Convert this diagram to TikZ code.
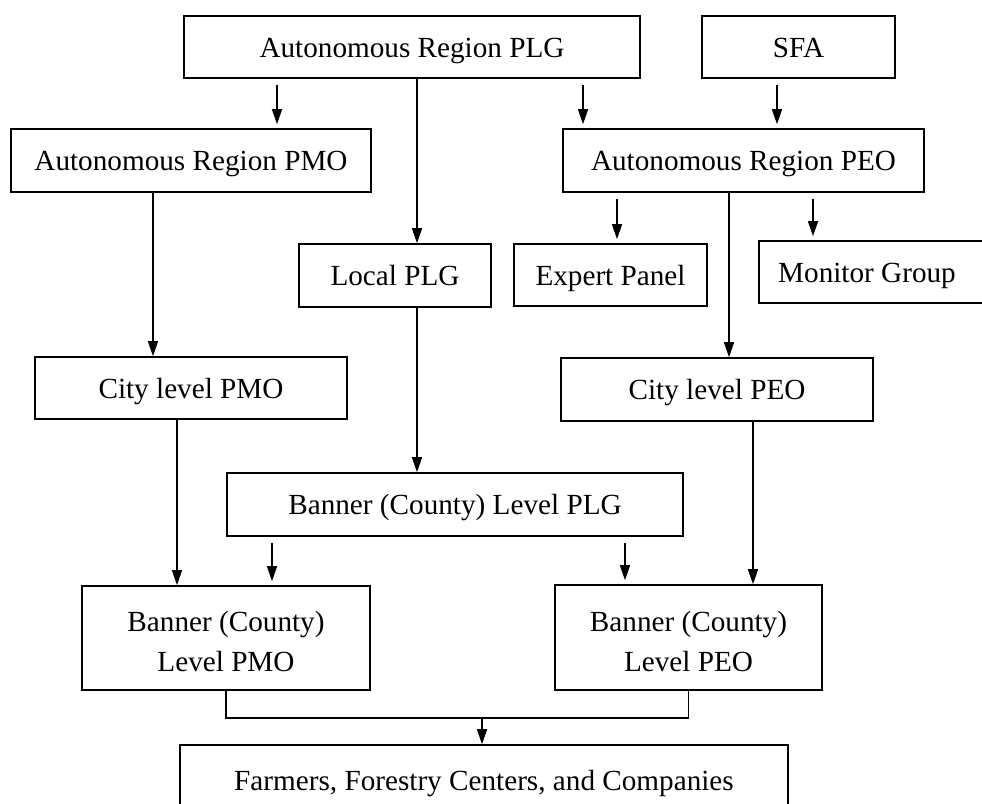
\documentclass[tikz,border=0pt]{standalone}
\usepackage{fontspec}
\setmainfont{Liberation Serif}
\usetikzlibrary{arrows.meta}
\begin{document}
\begin{tikzpicture}[x=1pt,y=-1pt,
  txt/.style={inner sep=0pt,align=center,font=\fontsize{29.2}{40}\selectfont},
  box/.style={txt,draw,line width=1.6pt},
  one/.style={box,text height=26pt,text depth=6pt},
  link/.style={line width=1.4pt},
  arr/.style={link,-{Triangle[length=15pt,width=10pt]}},
  gap/.style={shorten <=6pt,shorten >=4pt},
]
\useasboundingbox (0,0) rectangle (982,803);
\clip (0,0) rectangle (982,803);

% top level
\node[one,minimum width=456pt,minimum height=62pt] (plg) at (412,47) {Autonomous Region PLG};
\node[one,minimum width=193pt,minimum height=62pt] (sfa) at (798.5,47) {SFA};

% second level
\node[one,minimum width=360pt,minimum height=63pt] (arpmo) at (191,160.5) {Autonomous Region PMO};
\node[one,minimum width=361pt,minimum height=63pt] (arpeo) at (743.5,160.5) {Autonomous Region PEO};

% third level (the monitor box runs on past the right edge)
\node[one,minimum width=192pt,minimum height=63pt] (local) at (395,275.5) {Local PLG};
\node[one,minimum width=193pt,minimum height=62pt] (expert) at (610.5,275) {Expert Panel};
\node[one,minimum width=240pt,minimum height=62pt] (monitor) at (879,272) {Monitor Group\hspace*{24pt}};

% city level
\node[one,minimum width=312pt,minimum height=62pt] (citypmo) at (191,388) {City level PMO};
\node[one,minimum width=312pt,minimum height=63pt] (citypeo) at (717,389.5) {City level PEO};

% banner level
\node[one,minimum width=456pt,minimum height=63pt] (bplg) at (455,504.5) {Banner (County) Level PLG};
\node[box,minimum width=288pt,minimum height=104pt] (bpmo) at (226,638) {};
\node[txt] at ([yshift=-4pt]bpmo.center) {Banner (County)\\Level PMO};
\node[box,minimum width=267pt,minimum height=105pt] (bpeo) at (688.5,637.5) {};
\node[txt] at ([yshift=-4pt]bpeo.center) {Banner (County)\\Level PEO};

% beneficiaries (box runs on below the bottom edge)
\node[one,minimum width=608pt,minimum height=70pt] (farm) at (484,780) {Farmers, Forestry Centers, and Companies};

% connectors from the top level
\draw[arr,gap] (277,0 |- plg.south) -- (277,0 |- arpmo.north);
\draw[arr] (417,0 |- plg.south) -- (417,0 |- local.north);
\draw[arr,gap] (583,0 |- plg.south) -- (583,0 |- arpeo.north);
\draw[arr,gap] (777,0 |- sfa.south) -- (777,0 |- arpeo.north);

% connectors from the PEO
\draw[arr,gap] (617,0 |- arpeo.south) -- (617,0 |- expert.north);
\draw[arr,gap] (813,0 |- arpeo.south) -- (813,0 |- monitor.north);
\draw[arr] (729,0 |- arpeo.south) -- (729,0 |- citypeo.north);

% office chains
\draw[arr] (153,0 |- arpmo.south) -- (153,0 |- citypmo.north);
\draw[arr] (177,0 |- citypmo.south) -- (177,0 |- bpmo.north);
\draw[arr] (753,0 |- citypeo.south) -- (753,0 |- bpeo.north);
\draw[arr] (417,0 |- local.south) -- (417,0 |- bplg.north);

% banner PLG to banner offices
\draw[arr,gap] (272,0 |- bplg.south) -- (272,0 |- bpmo.north);
\draw[arr,gap] (625,0 |- bplg.south) -- (625,0 |- bpeo.north);

% merge into the beneficiaries
\coordinate (m) at (482,718);
\draw[link] (bpmo.south) |- (m) -| (bpeo.south);
\draw[arr] (m) -- (m |- farm.north);
\end{tikzpicture}
\end{document}
